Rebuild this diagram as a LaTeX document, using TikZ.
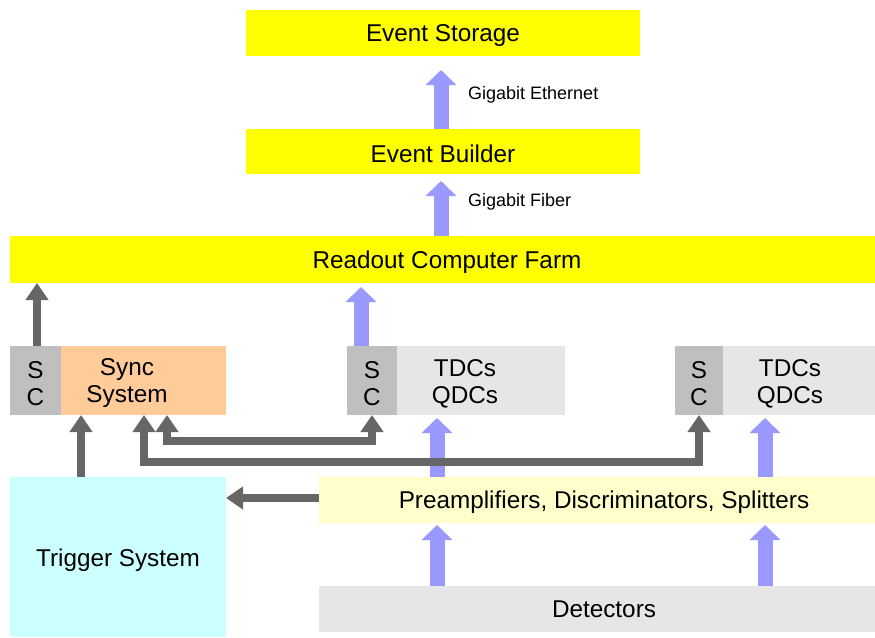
\documentclass[tikz,border=0pt]{standalone}
\usepackage{fontspec}
\setmainfont{Liberation Sans}
\usetikzlibrary{arrows.meta}
\definecolor{ylw}{HTML}{FFFF00}
\definecolor{scgray}{HTML}{BFBFBF}
\definecolor{lgray}{HTML}{E6E6E6}
\definecolor{peach}{HTML}{FFCC99}
\definecolor{lcyan}{HTML}{CCFFFF}
\definecolor{lylw}{HTML}{FFFFCC}
\definecolor{arrblue}{HTML}{9999FF}
\definecolor{arrdark}{HTML}{666666}
\begin{document}
\begin{tikzpicture}[x=1pt,y=-1pt,
  box/.style={draw=none, inner sep=0pt, outer sep=0pt},
  txt/.style={inner sep=0pt, align=center, font=\fontsize{24.3}{27}\selectfont},
  small/.style={inner sep=0pt, anchor=west, font=\fontsize{18}{20}\selectfont},
  bluearr/.style={line width=15pt, draw=arrblue, -{Triangle[length=15pt,width=30pt]}},
  darkarr/.style={line width=8pt, draw=arrdark, -{Triangle[length=17pt,width=22pt]}},
  darkboth/.style={line width=8pt, draw=arrdark,
    {Triangle[length=17pt,width=22pt]}-{Triangle[length=17pt,width=22pt]}}]
\useasboundingbox (0,0) rectangle (875,637);
% top boxes
\node[box, fill=ylw, minimum width=394pt, minimum height=46pt] (es) at (443,33) {};
\node[txt] (est) at (443,36) {Event Storage};
\node[box, fill=ylw, minimum width=394pt, minimum height=45pt] (eb) at (443,151.5) {};
\node[txt] (ebt) at (443,154) {Event Builder};
\node[box, fill=ylw, minimum width=865pt, minimum height=47pt] (farm) at (442.5,259.5) {};
\node[txt] (farmt) at (447,262) {Readout Computer Farm};
% middle row
\node[box, fill=scgray, minimum width=51pt, minimum height=69pt] (sc1) at (35.5,380.5) {};
\node[txt] (sc1t) at (35.5,383.5) {S\\C};
\node[box, fill=peach, minimum width=165pt, minimum height=69pt] (sync) at (143.5,380.5) {};
\node[txt] (synct) at (127,383.5) {Sync\\System};
\node[box, fill=scgray, minimum width=50pt, minimum height=69pt] (sc2) at (372,380.5) {};
\node[txt] (sc2t) at (372,383.5) {S\\C};
\node[box, fill=lgray, minimum width=168pt, minimum height=69pt] (tdc1) at (481,380.5) {};
\node[txt] (tdc1t) at (465,383.5) {TDCs\\QDCs};
\node[box, fill=scgray, minimum width=48pt, minimum height=69pt] (sc3) at (699,380.5) {};
\node[txt] (sc3t) at (699,383.5) {S\\C};
\node[box, fill=lgray, minimum width=152pt, minimum height=69pt] (tdc2) at (799,380.5) {};
\node[txt] (tdc2t) at (790,383.5) {TDCs\\QDCs};
% bottom
\node[box, fill=lcyan, minimum width=216pt, minimum height=160pt] (trig) at (118,557) {};
\node[txt] (trigt) at (118,560) {Trigger System};
\node[box, fill=lylw, minimum width=556pt, minimum height=46pt] (pre) at (597,500) {};
\node[txt] (pret) at (604,502.5) {Preamplifiers, Discriminators, Splitters};
\node[box, fill=lgray, minimum width=556pt, minimum height=46pt] (det) at (597,609) {};
\node[txt] (dett) at (604,609.5) {Detectors};
% labels
\node[small] (ge) at (468,94.5) {Gigabit Ethernet};
\node[small] (gf) at (468,201.5) {Gigabit Fiber};
% blue arrows
\draw[bluearr, shorten >=14pt] (eb.north -| 441,0) -- (es.south -| 441,0);
\draw[bluearr, shorten >=7pt] (farm.north -| 441,0) -- (eb.south -| 441,0);
\draw[bluearr, shorten >=4pt] (sc2.north -| 361,0) -- (farm.south -| 361,0);
\draw[bluearr, shorten >=3pt] (pre.north -| 437,0) -- (tdc1.south -| 437,0);
\draw[bluearr, shorten >=3pt] (pre.north -| 765,0) -- (tdc2.south -| 765,0);
\draw[bluearr, shorten >=2pt] (det.north -| 437,0) -- (pre.south -| 437,0);
\draw[bluearr, shorten >=2pt] (det.north -| 765,0) -- (pre.south -| 765,0);
% dark arrows
\draw[darkarr] (sc1.north -| 37,0) -- (farm.south -| 37,0);
\draw[darkarr] (trig.north -| 81,0) -- (sync.south -| 81,0);
\draw[darkarr] (pre.west |- 0,498) -- (trig.east |- 0,498);
\draw[darkboth] (sync.south -| 167,0) -- (167,441) -| (sc2.south);
\draw[darkboth] (sync.south -| 144,0) -- (144,462) -| (sc3.south);
\end{tikzpicture}
\end{document}
